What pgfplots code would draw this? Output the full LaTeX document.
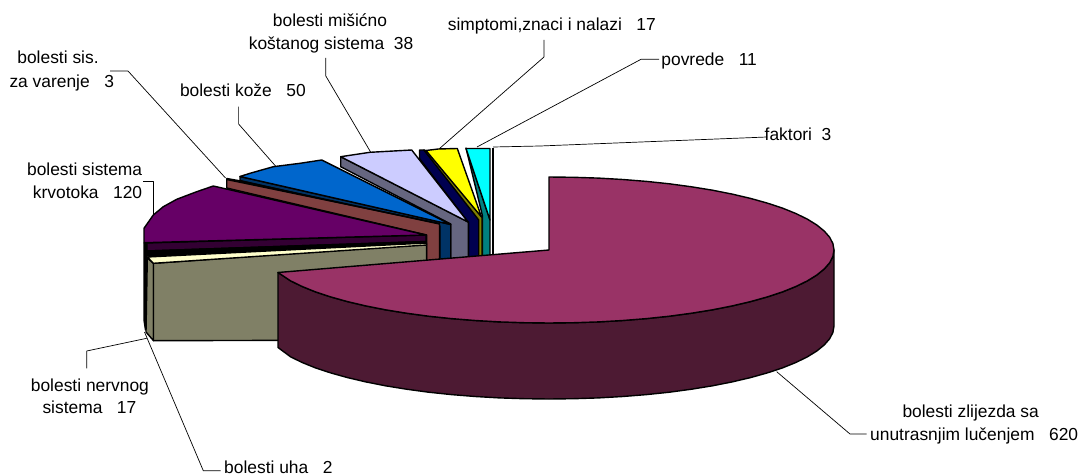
\documentclass[border=0pt]{standalone}
\usepackage{pgfplots}
\pgfplotsset{compat=1.18}
\usepackage{fontspec}
\setmainfont{Liberation Sans}
\definecolor{cMain}{RGB}{153,51,102}
\definecolor{cMainS}{RGB}{77,26,51}
\definecolor{cOlive}{RGB}{128,128,102}
\definecolor{cCream}{RGB}{255,255,204}
\definecolor{cPurple}{RGB}{102,0,102}
\definecolor{cPurpleS}{RGB}{51,0,51}
\definecolor{cBrown}{RGB}{128,64,64}
\definecolor{cBlue}{RGB}{0,102,204}
\definecolor{cBlueS}{RGB}{0,51,102}
\definecolor{cLav}{RGB}{204,204,255}
\definecolor{cLavS}{RGB}{102,102,128}
\definecolor{cNavy}{RGB}{0,0,80}
\definecolor{cYel}{RGB}{255,255,0}
\definecolor{cYelS}{RGB}{128,128,0}
\definecolor{cCyan}{RGB}{0,255,255}
\definecolor{cTeal}{RGB}{0,128,128}
\tikzset{lab/.style={anchor=base west,inner sep=0pt,font=\fontsize{17.4}{19}\selectfont}}
\begin{document}
\begin{tikzpicture}
\path[use as bounding box] (0,0) rectangle (1081pt,476pt);
\begin{axis}[at={(0,0)},anchor=south west,scale only axis,width=1081pt,height=476pt,xmin=0,xmax=1081,ymin=0,ymax=476,y dir=reverse,axis lines=none,clip=true,no markers,
 every axis plot/.append style={line width=1.4pt,line join=round,draw=black}]
% leaders
\addplot[line width=0.7pt] coordinates {(493,147) (540,146) (767,137)};
\addplot[line width=0.7pt] coordinates {(477,147) (641,59.3) (659,59.3)};
\addplot[line width=0.7pt] coordinates {(439,149) (544,57) (544,40)};
\addplot[line width=0.7pt] coordinates {(371,152.7) (325.8,76) (325.8,58)};
\addplot[line width=0.7pt] coordinates {(275.5,166) (238.6,124) (238.6,106.7)};
\addplot[line width=0.7pt] coordinates {(225.5,178) (128,71) (110,71)};
\addplot[line width=0.7pt] coordinates {(153,215) (153,181) (143,181)};
\addplot[line width=0.7pt] coordinates {(146.7,338.3) (86.7,351) (86.7,368.3)};
\addplot[line width=0.7pt] coordinates {(144.5,332) (203.3,470.7) (220.7,470.7)};
\addplot[line width=0.7pt] coordinates {(776.7,371.7) (850,434) (866.7,434)};
% white slice edge
\addplot[line width=1.6pt] coordinates {(493,148) (493,258)};
% cyan
\addplot[fill=cTeal] coordinates {(466,148) (490,220) (490,260) (482.5,260) (482.5,216)} --cycle;
\addplot[fill=cCyan] coordinates {(466,148.5) (490,148.5) (490,220)} --cycle;
% navy + yellow
\addplot[fill=cNavy] coordinates {(419.5,150) (419.5,158.5) (468.3,222.3) (468.3,260) (478.7,260) (478.7,218) (424,150)} --cycle;
\addplot[fill=cYelS] coordinates {(424,150) (478.7,220) (478.7,260) (482,260) (482,217) (427,151)} --cycle;
\addplot[fill=cYel] coordinates {(426,150.5) (438.3,149) (457.3,148.5) (481.5,217)} --cycle;
% lavender
\addplot[fill=cLavS] coordinates {(340.7,156.7) (340.7,166.7) (450.7,224) (450.7,262) (468.3,262) (468.3,222)} --cycle;
\addplot[fill=cLav] coordinates {(340.7,156.7) (370,152.3) (411.7,150) (468,222)} --cycle;
% blue
\addplot[fill=cBlueS] coordinates {(240,176.5) (240,180.5) (440,226) (440,262) (450.7,262) (450.7,224.5)} --cycle;
\addplot[fill=cBlue] coordinates {(240,176.5) (250,173.3) (273.3,166.7) (300,163.3) (321.7,160) (450.7,224.5)} --cycle;
% brown
\addplot[fill=cBrown] coordinates {(226.7,179.5) (226.7,188) (426.7,235) (426.7,262) (439.5,262) (439.5,223.5)} --cycle;
\addplot[fill=black] coordinates {(226.7,178.5) (238,180.5) (439.5,224)} --cycle;
% purple
\addplot[fill=cPurpleS] coordinates {(146,243) (146,251) (426,241.5) (426,235)} --cycle;
\addplot[fill=cPurple] coordinates {(144,242.7) (144,228.3) (153.3,215) (163.3,206.7) (176.7,199.3) (196.7,191.7) (213.3,186) (426,235)} --cycle;
% black sliver
\addplot[fill=black] coordinates {(144,243) (147,243) (147,320) (145.5,330) (144,320)} --cycle;
\addplot[fill=black] coordinates {(146,251) (147,256) (426,244) (426,241.5)} --cycle;
% olive block
\addplot[fill=cOlive] coordinates {(147.3,258) (153.5,263.3) (153.5,340.7) (146,332)} --cycle;
\addplot[fill=cOlive] coordinates {(153.5,263.3) (426.5,244) (426.5,340) (153.5,340.7)} --cycle;
\addplot[fill=cCream] coordinates {(147.3,257) (153.5,263.3) (426.5,245) (426.5,243)} --cycle;
% main slice side
\addplot[fill=cMainS] coordinates {(834,250) (834,326) (832.9,332.4) (829.7,338.7) (824.3,344.9) (816.8,351) (807.3,356.9) (795.8,362.5) (782.5,367.9) (767.3,372.9) (750.5,377.6) (732.2,381.9) (712.5,385.8) (691.5,389.2) (669.4,392.2) (646.5,394.6) (622.8,396.5) (598.5,397.9) (573.8,398.7) (549,399) (524.2,398.7) (499.5,397.9) (475.2,396.5) (451.5,394.6) (428.6,392.2) (406.5,389.2) (385.5,385.8) (365.8,381.9) (347.5,377.6) (330.7,372.9) (315.5,367.9) (302.2,362.5) (290.7,356.9) (278,347.5) (278,272.5) (290.7,280.9) (302.2,286.5) (315.5,291.9) (330.7,296.9) (347.5,301.6) (365.8,305.9) (385.5,309.8) (406.5,313.2) (428.6,316.2) (451.5,318.6) (475.2,320.5) (499.5,321.9) (524.2,322.7) (549,323) (573.8,322.7) (598.5,321.9) (622.8,320.5) (646.5,318.6) (669.4,316.2) (691.5,313.2) (712.5,309.8) (732.2,305.9) (750.5,301.6) (767.3,296.9) (782.5,291.9) (795.8,286.5) (807.3,280.9) (816.8,275) (824.3,268.9) (829.7,262.7) (832.9,256.4)} --cycle;
% main slice top
\addplot[fill=cMain] coordinates {(549,250) (549,177) (573.8,177.3) (598.5,178.1) (622.8,179.5) (646.5,181.4) (669.4,183.8) (691.5,186.8) (712.5,190.2) (732.2,194.1) (750.5,198.4) (767.3,203.1) (782.5,208.1) (795.8,213.5) (807.3,219.1) (816.8,225) (824.3,231.1) (829.7,237.3) (832.9,243.6) (834,250) (832.9,256.4) (829.7,262.7) (824.3,268.9) (816.8,275) (807.3,280.9) (795.8,286.5) (782.5,291.9) (767.3,296.9) (750.5,301.6) (732.2,305.9) (712.5,309.8) (691.5,313.2) (669.4,316.2) (646.5,318.6) (622.8,320.5) (598.5,321.9) (573.8,322.7) (549,323) (524.2,322.7) (499.5,321.9) (475.2,320.5) (451.5,318.6) (428.6,316.2) (406.5,313.2) (385.5,309.8) (365.8,305.9) (347.5,301.6) (330.7,296.9) (315.5,291.9) (302.2,286.5) (290.7,280.9) (278,272.5)} --cycle;
% labels
\node[lab] at (axis cs:272.7,26.7) {bolesti mišićno};
\node[lab] at (axis cs:248.6,49.3) {koštanog sistema\ \ 38};
\node[lab] at (axis cs:447.7,31) {simptomi,znaci i nalazi\ \ \ 17};
\node[lab] at (axis cs:661.2,66) {povrede\ \ \ 11};
\node[lab] at (axis cs:764.5,140) {faktori\ \ 3};
\node[lab] at (axis cs:179.8,97) {bolesti kože\ \ \ 50};
\node[lab] at (axis cs:17.2,64) {bolesti sis.};
\node[lab] at (axis cs:9.3,88) {za varenje\ \ \ 3};
\node[lab] at (axis cs:26.9,175) {bolesti sistema};
\node[lab] at (axis cs:32.7,198) {krvotoka\ \ \ 120};
\node[lab] at (axis cs:30.7,391) {bolesti nervnog};
\node[lab] at (axis cs:42.3,413.3) {sistema\ \ \ 17};
\node[lab] at (axis cs:224,473) {bolesti uha\ \ \ 2};
\node[lab] at (axis cs:902.3,417.3) {bolesti zlijezda sa};
\node[lab] at (axis cs:870,440) {unutrasnjim lučenjem\ \ \ 620};
\end{axis}
\end{tikzpicture}
\end{document}
